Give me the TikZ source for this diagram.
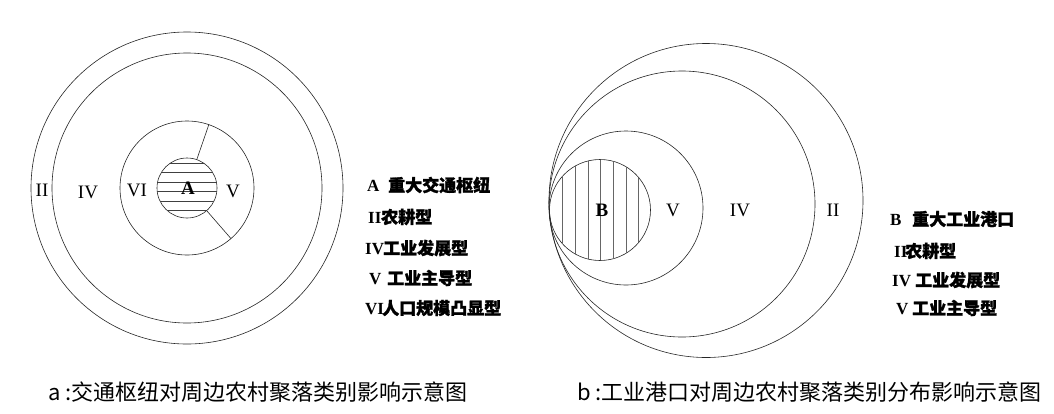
\documentclass[tikz,border=0pt]{standalone}
\usepackage{fontspec}
\setmainfont{Liberation Serif}
\newfontfamily\cjk{Noto Sans CJK SC}
\newfontfamily\cjkb[FakeBold=1.5]{Noto Sans CJK SC}
\usepackage{tikz}
\newcommand{\legitem}[3]{\makebox[#1pt][l]{#2}{\fontsize{17}{17}\cjkb #3}}
\tikzset{
  ring/.style={line width=0.6pt,draw=black!85},
  hatch/.style={line width=0.5pt,draw=black!75},
  vhatch/.style={line width=0.5pt,draw=gray!80!black},
  zone/.style={inner sep=0pt,font=\fontsize{19}{19}\selectfont},
  core/.style={inner sep=0pt,font=\fontsize{19}{19}\selectfont\bfseries},
  legend/.style={anchor=west,inner sep=0pt,font=\fontsize{17}{17}\selectfont\bfseries},
  caption/.style={anchor=west,inner sep=0pt,font=\fontsize{22}{22}\cjk}
}
\begin{document}
\begin{tikzpicture}[x=1pt,y=-1pt]
  \useasboundingbox (0,0) rectangle (1054,413);
  \coordinate (OA) at (187,188);
  \coordinate (OB1) at (706,200.5);
  \coordinate (OB2) at (682,204);
  \coordinate (OB3) at (626,208);
  \coordinate (OB4) at (600,210);

  \draw[ring] (OA) circle (156pt);
  \draw[ring] (OA) circle (135pt);
  \draw[ring] (OA) circle (67pt);
  \draw[ring] (OA) circle (30pt);
  \begin{scope}
    \clip (OA) circle (30pt);
    \foreach \y in {163,172.5,182,191.5,201,210.5}
      \draw[hatch] (150,\y) -- (224,\y);
  \end{scope}
  \draw[ring] ([shift={(71:30pt)}]OA) -- ([shift={(71:67pt)}]OA);
  \draw[ring] ([shift={(-49:30pt)}]OA) -- ([shift={(-49:67pt)}]OA);

  \draw[ring] (OB1) circle (157pt);
  \draw[ring] (OB2) circle (133pt);
  \draw[ring] (OB3) circle (77pt);
  \draw[ring] (OB4) circle (50.5pt);
  \begin{scope}
    \clip (OB4) circle (50.5pt);
    \foreach \x in {562,575,588,600,613,626,638}
      \draw[vhatch] (\x,155) -- (\x,265);
  \end{scope}

  \node[zone] (zIIa) at (42,190) {II};
  \node[zone] (zIVa) at (88,192) {IV};
  \node[zone] (zVIa) at (137,190) {VI};
  \node[core] (zA) at (188,188) {A};
  \node[zone] (zVa) at (233,191) {V};

  \node[core] (zB) at (602,210) {B};
  \node[zone] (zVb) at (673,210) {V};
  \node[zone] (zIVb) at (740,210) {IV};
  \node[zone] (zIIb) at (833,210) {II};

  \node[legend] (la1) at (367,185) {\legitem{21}{A}{重大交通枢纽}};
  \node[legend] (la2) at (368,217) {\legitem{13}{II}{农耕型}};
  \node[legend] (la3) at (365,248) {\legitem{18}{IV}{工业发展型}};
  \node[legend] (la4) at (369,278) {\legitem{18}{V}{工业主导型}};
  \node[legend] (la5) at (365,308) {\legitem{17}{VI}{人口规模凸显型}};

  \node[legend] (lb1) at (890,219) {\legitem{22}{B}{重大工业港口}};
  \node[legend] (lb2) at (894,251) {\legitem{11}{II}{农耕型}};
  \node[legend] (lb3) at (892,280) {\legitem{23}{IV}{工业发展型}};
  \node[legend] (lb4) at (896,308) {\legitem{16}{V}{工业主导型}};

  \node[caption] (capa) at (48,392) {a :交通枢纽对周边农村聚落类别影响示意图};
  \node[caption] (capb) at (577,392) {b :工业港口对周边农村聚落类别分布影响示意图};
\end{tikzpicture}
\end{document}
